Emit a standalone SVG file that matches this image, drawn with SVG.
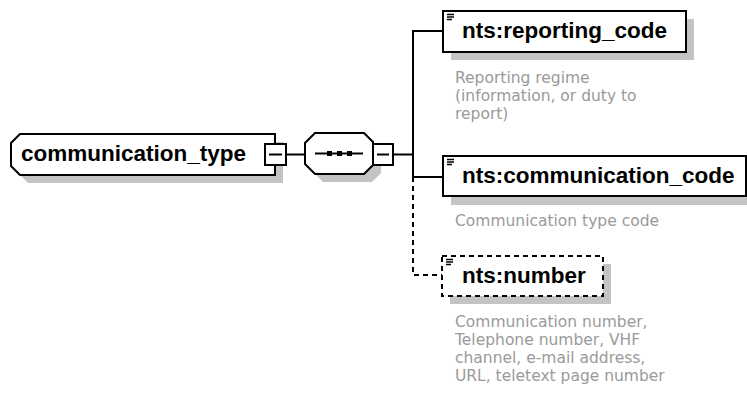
<svg xmlns="http://www.w3.org/2000/svg" width="747" height="396" viewBox="0 0 747 396">
<style>
.bg{fill:#fff}
.shadow{fill:#c4c4c4;stroke:none}
.box{fill:#fff;stroke:#000;stroke-width:2}
.dbox{fill:#fff;stroke:#000;stroke-width:2;stroke-dasharray:5,4}
.conn{fill:none;stroke:#000;stroke-width:2}
.dconn{fill:none;stroke:#000;stroke-width:2;stroke-dasharray:5,4}
.name{font-family:"Liberation Sans",Arial,sans-serif;font-weight:bold;font-size:22.5px;fill:#000}
.desc{font-family:"DejaVu Sans",Verdana,sans-serif;font-size:15.5px;fill:#9a9a9a}
.icon{stroke:#000;stroke-width:1.5}
</style>
<rect class="bg" x="0" y="0" width="747" height="396"/>
<g id="connectors">
  <line class="conn" x1="286" y1="154.5" x2="305" y2="154.5"/>
  <line class="conn" x1="393" y1="154.5" x2="413" y2="154.5"/>
  <polyline class="conn" points="443,31 413,31 413,177 443,177"/>
  <polyline class="dconn" points="413,177 413,275 442,275"/>
</g>
<g id="communication_type">
  <polygon class="shadow" points="28,142 283,142 283,183 28,183 19,174 19,151"/>
  <polygon class="box" points="20,134 275,134 275,175 20,175 11,166 11,143"/>
  <text class="name" x="21" y="161">communication_type</text>
  <rect class="box" x="265" y="144" width="21" height="21"/>
  <line class="conn" x1="269" y1="154.5" x2="282" y2="154.5"/>
</g>
<g id="sequence">
  <polygon class="shadow" points="323,141 372,141 381,150 381,173 372,182 323,182 313,172 313,151"/>
  <polygon class="box" points="315,133 364,133 373,142 373,165 364,174 315,174 305,164 305,143"/>
  <line class="conn" x1="315" y1="153.5" x2="363" y2="153.5"/>
  <rect x="327" y="151" width="5" height="5" fill="#000"/>
  <rect x="337" y="151" width="5" height="5" fill="#000"/>
  <rect x="347" y="151" width="5" height="5" fill="#000"/>
  <rect class="box" x="373" y="144" width="20" height="21"/>
  <line class="conn" x1="377" y1="154.5" x2="389" y2="154.5"/>
</g>
<g id="reporting_code">
  <rect class="shadow" x="451" y="19" width="243" height="41"/>
  <rect class="box" x="443" y="11" width="243" height="41"/>
  <line class="icon" x1="447" y1="14.5" x2="454" y2="14.5"/>
  <line class="icon" x1="447" y1="17" x2="454" y2="17"/>
  <line class="icon" x1="447" y1="19.5" x2="452" y2="19.5"/>
  <text class="name" x="462" y="38">nts:reporting_code</text>
  <text class="desc" x="455" y="83">Reporting regime</text>
  <text class="desc" x="455" y="101">(information, or duty to</text>
  <text class="desc" x="455" y="119">report)</text>
</g>
<g id="communication_code">
  <rect class="shadow" x="451" y="164" width="303" height="41"/>
  <rect class="box" x="443" y="156" width="303" height="40"/>
  <line class="icon" x1="447" y1="159.5" x2="454" y2="159.5"/>
  <line class="icon" x1="447" y1="162" x2="454" y2="162"/>
  <line class="icon" x1="447" y1="164.5" x2="452" y2="164.5"/>
  <text class="name" x="462" y="183">nts:communication_code</text>
  <text class="desc" x="455" y="226">Communication type code</text>
</g>
<g id="number">
  <rect class="shadow" x="450" y="264" width="161" height="40"/>
  <rect class="dbox" x="442" y="256" width="161" height="40"/>
  <line class="icon" x1="446" y1="259.5" x2="453" y2="259.5"/>
  <line class="icon" x1="446" y1="262" x2="453" y2="262"/>
  <line class="icon" x1="446" y1="264.5" x2="451" y2="264.5"/>
  <text class="name" x="462" y="283">nts:number</text>
  <text class="desc" x="455" y="327">Communication number,</text>
  <text class="desc" x="455" y="345">Telephone number, VHF</text>
  <text class="desc" x="455" y="363">channel, e-mail address,</text>
  <text class="desc" x="455" y="381">URL, teletext page number</text>
</g>
</svg>
